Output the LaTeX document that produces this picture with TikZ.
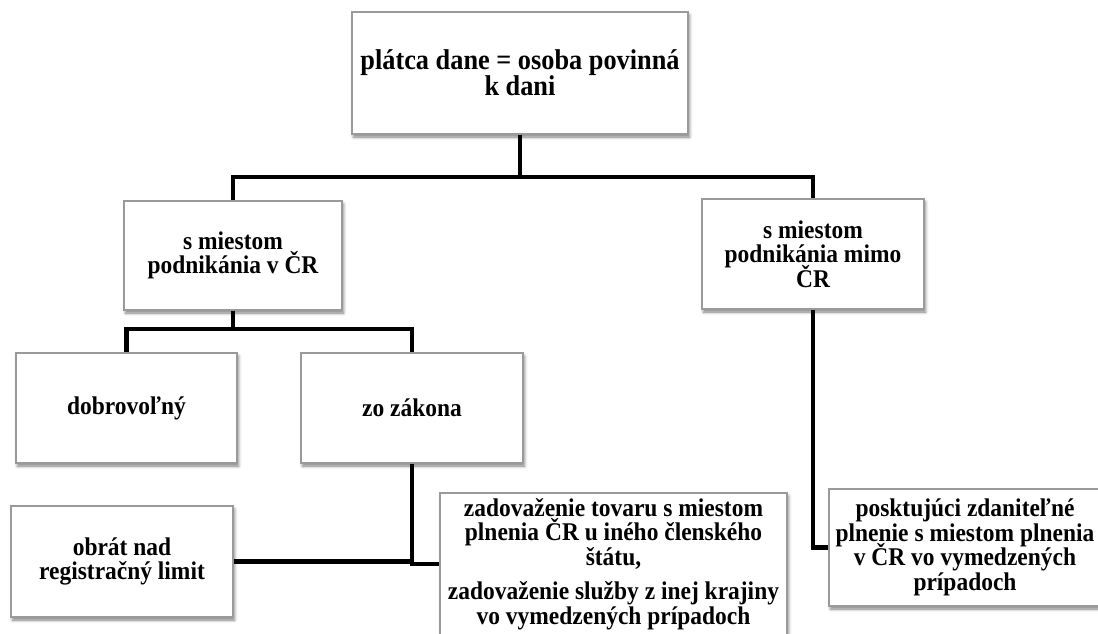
\documentclass[tikz,border=0pt]{standalone}
\usepackage{fontspec}
\setmainfont{Liberation Serif}
\newfontfamily\boxfont[FakeStretch=0.92]{Liberation Serif}
\usetikzlibrary{shadows.blur}
\definecolor{boxgray}{HTML}{9A9A9A}
\newcommand{\tightlines}{\lineskiplimit=-30pt\relax}
\begin{document}
\begin{tikzpicture}[x=1pt,y=-1pt,
  box/.style={draw=boxgray, line width=1.2pt, fill=white, inner sep=0pt,
    align=center,
    font=\boxfont\bfseries\fontsize{25.5}{24.5}\selectfont\tightlines,
    blur shadow={shadow xshift=1.5pt, shadow yshift=-3pt,
      shadow blur radius=3pt, shadow opacity=50}},
  link/.style={line width=4.5pt, black}]
\useasboundingbox (0,0) rectangle (1098,633);
\clip (0,0) rectangle (1098,633);

% boxes
\node[box, minimum width=336pt, minimum height=122pt,
  font=\boxfont\bfseries\fontsize{28.6}{26}\selectfont\tightlines] (top) at (520,73)
  {plátca dane = osoba povinná\\k dani};
\node[box, minimum width=218pt, minimum height=109pt] (lmid) at (233,255.5)
  {s miestom\\podnikánia v ČR};
\node[box, minimum width=222pt, minimum height=110pt] (rmid) at (813,254)
  {s miestom\\podnikánia mimo\\ČR};
\node[box, minimum width=221pt, minimum height=110pt] (dobr) at (126.5,408)
  {dobrovoľný};
\node[box, minimum width=222pt, minimum height=110pt] (zoz) at (412,408)
  {zo zákona};
\node[box, minimum width=222pt, minimum height=111pt] (obr) at (122,561.5)
  {obrát nad\\registračný limit};
\node[box, minimum width=347pt, minimum height=142pt] (zad) at (613.5,564)
  {zadovaženie tovaru s miestom\\plnenia ČR u iného členského\\štátu,\\[10pt]zadovaženie služby z inej krajiny\\vo vymedzených prípadoch};
\node[box, minimum width=272pt, minimum height=117pt] (post) at (965,547.5)
  {posktujúci zdaniteľné\\plnenie s miestom plnenia\\v ČR vo vymedzených\\prípadoch};

% bus points of the tree
\coordinate (bus1) at (520,177);
\coordinate (bus2) at (233,329);

% connectors
\draw[link] (top.south) -- (bus1) -| (lmid.north);
\draw[link] (bus1) -| (rmid.north);
\draw[link] (lmid.south) -- (bus2) -| (dobr.north);
\draw[link] (bus2) -| (zoz.north);
\draw[link] (zoz.south) |- (zad.west);
\draw[link] (obr.east) -- (zoz.south |- obr.east);
\draw[link] (rmid.south) |- (post.west);
\end{tikzpicture}
\end{document}
